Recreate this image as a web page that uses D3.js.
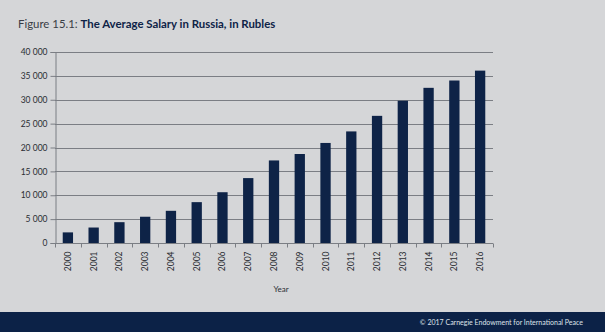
<!DOCTYPE html>
<html><head><meta charset="utf-8">
<script src="https://cdn.jsdelivr.net/npm/d3@7"></script>
<style>
html,body{margin:0;padding:0;background:#d5d6d8;}
svg{display:block;font-family:Lato, "Open Sans", sans-serif;}
</style></head>
<body>
<script>
const years = ["2000","2001","2002","2003","2004","2005","2006","2007","2008","2009","2010","2011","2012","2013","2014","2015","2016"];
const salaries = [2223,3240,4360,5499,6740,8555,10634,13593,17290,18638,20952,23369,26629,29792,32495,34030,36100];
const yTicks = [0,5000,10000,15000,20000,25000,30000,35000,40000];
const titlePrefix = "Figure 15.1: ";
const titleMain = "The Average Salary in Russia, in Rubles";
const xTitle = "Year";
const footer = "© 2017 Carnegie Endowment for International Peace";

const W = 605, H = 332;
const svg = d3.select("body").append("svg").attr("width", W).attr("height", H);
svg.append("rect").attr("width", W).attr("height", H).attr("fill", "#d5d6d8");

const mLeft = 55, mRight = 493, mTop = 52, mBottom = 243;
const x = d3.scaleBand().domain(years).range([mLeft, mRight]).paddingInner(0.6).paddingOuter(0.3);
const y = d3.scaleLinear().domain([0, 40000]).range([mBottom, mTop]);

// gridlines
svg.append("g").selectAll("line").data(yTicks.filter(d => d > 0)).join("line")
  .attr("x1", mLeft).attr("x2", mRight)
  .attr("y1", d => Math.round(y(d)) + 0.5).attr("y2", d => Math.round(y(d)) + 0.5)
  .attr("stroke", "#7b7e84").attr("stroke-width", 1);

// y axis
const yAxis = d3.axisLeft(y).tickValues(yTicks).tickSize(5).tickPadding(3)
  .tickFormat(d => d3.format(",")(d).replace(",", " "));
const gy = svg.append("g").attr("transform", `translate(${mLeft + 0.5},0)`).call(yAxis);
gy.select(".domain").attr("stroke", "#7b7e84");
gy.selectAll(".tick line").attr("stroke", "#7b7e84");
gy.selectAll("text").attr("fill", "#2a2d33").attr("font-size", 8.5).attr("font-family", "Lato, sans-serif");

// bars
svg.append("g").selectAll("rect").data(years).join("rect")
  .attr("x", d => x(d)).attr("width", x.bandwidth())
  .attr("y", (d, i) => y(salaries[i])).attr("height", (d, i) => y(0) - y(salaries[i]))
  .attr("fill", "#0e2347");

// x axis
const gx = svg.append("g").attr("transform", `translate(0,${mBottom + 0.5})`);
gx.append("line").attr("x1", mLeft).attr("x2", mRight).attr("stroke", "#7b7e84");
const bounds = d3.range(years.length + 1).map(i => mLeft + i * (mRight - mLeft) / years.length);
gx.selectAll("line.tk").data(bounds).join("line").attr("class", "tk")
  .attr("x1", d => Math.round(d) + 0.5).attr("x2", d => Math.round(d) + 0.5)
  .attr("y1", 0).attr("y2", 4).attr("stroke", "#7b7e84");
gx.selectAll("text").data(years).join("text")
  .attr("transform", d => `translate(${x(d) + x.bandwidth() / 2 + 3},8) rotate(-90)`)
  .attr("text-anchor", "end").attr("font-size", 8.5).attr("fill", "#2a2d33")
  .text(d => d);

svg.append("text").attr("x", 281).attr("y", 292).attr("text-anchor", "middle")
  .attr("font-size", 8).attr("fill", "#2a2d33").text(xTitle);

// title
const t = svg.append("text").attr("x", 18).attr("y", 28).attr("font-size", 11.4);
t.append("tspan").attr("fill", "#3a3d45").attr("font-weight", 400).text(titlePrefix);
t.append("tspan").attr("fill", "#0e2347").attr("font-weight", 700).text(titleMain);

// footer
svg.append("rect").attr("x", 0).attr("y", 312).attr("width", W).attr("height", H - 312).attr("fill", "#0c2247");
svg.append("text").attr("x", 583).attr("y", 325).attr("text-anchor", "end")
  .attr("font-size", 7).attr("fill", "#dfe3ea").text(footer);
</script>
</body></html>
